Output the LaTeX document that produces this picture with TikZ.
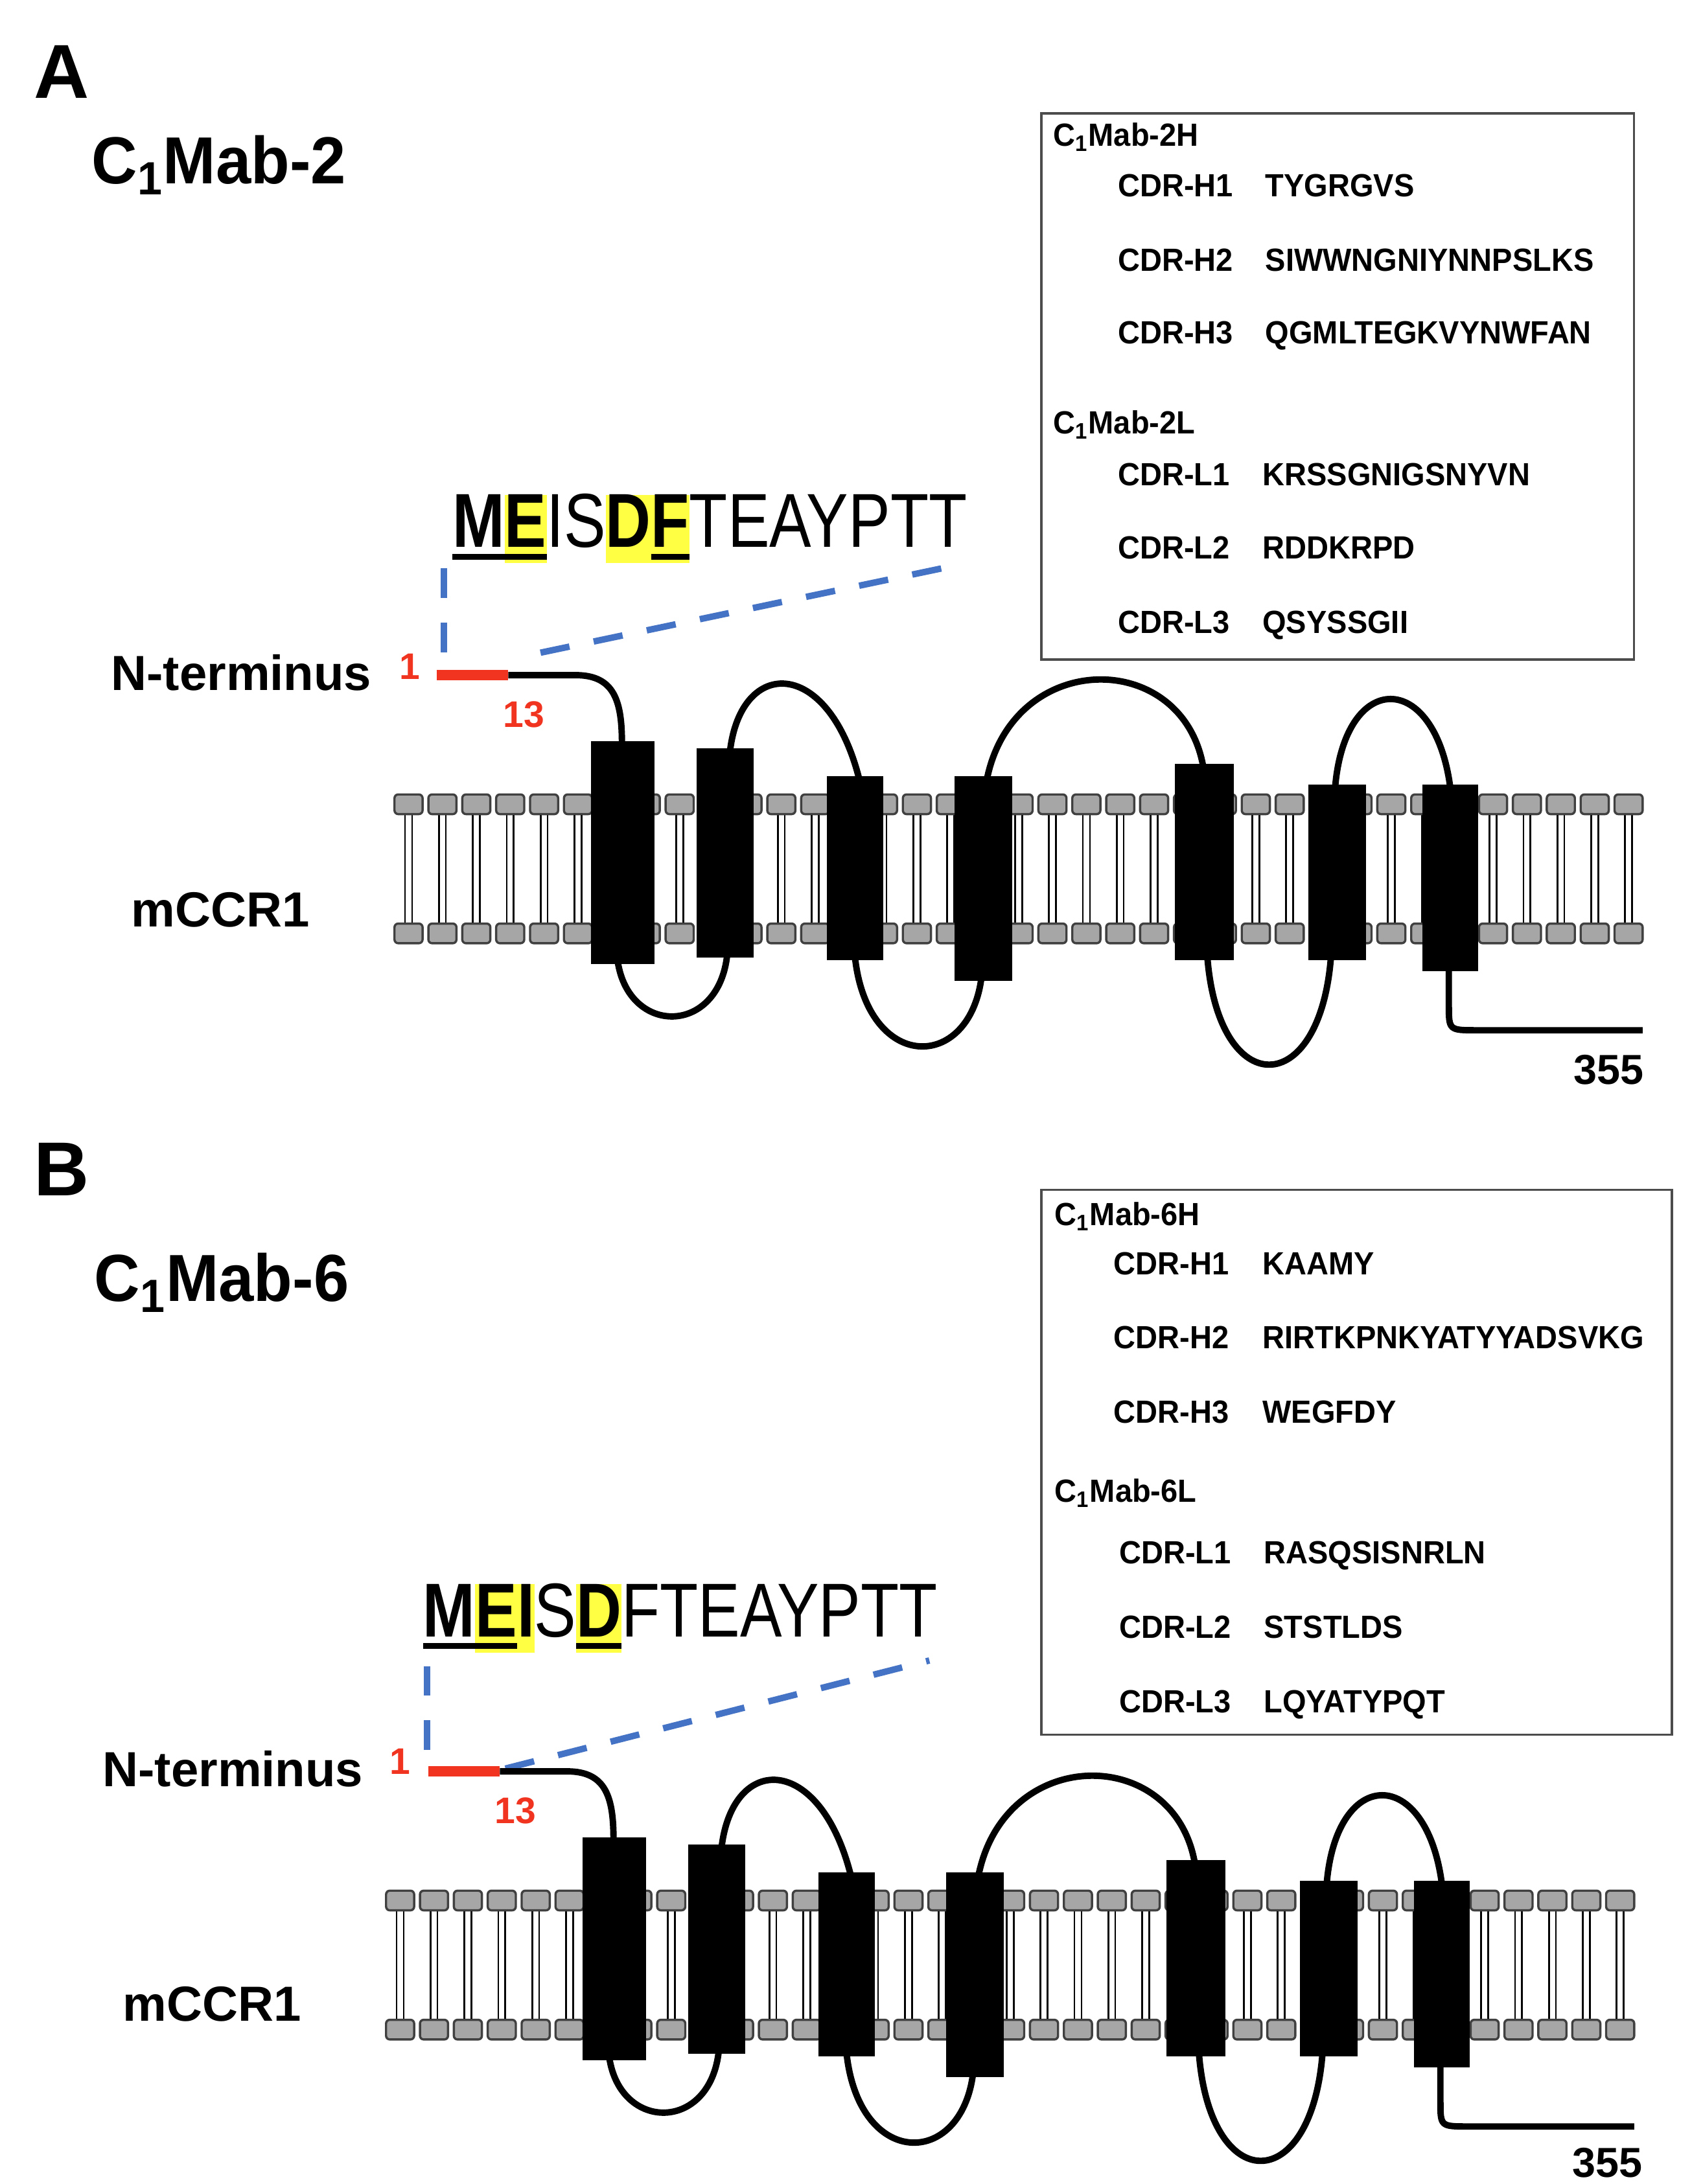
\documentclass[tikz,border=0pt]{standalone}
\usepackage{fontspec}
\setmainfont{Liberation Sans}
\newfontfamily\wide[FakeStretch=0.95]{Liberation Sans}
\newfontfamily\lwide[FakeStretch=1.0]{Liberation Sans}
\newfontfamily\narrow[FakeStretch=0.95]{Liberation Sans}
\newfontfamily\seqf[FakeStretch=0.82]{Liberation Sans}
\definecolor{hlY}{HTML}{FFFF44}
\definecolor{dblue}{HTML}{4472C4}
\definecolor{nred}{HTML}{F03420}
\definecolor{headG}{HTML}{A6A6A6}
\newcommand\hlb[1]{{\setlength\fboxsep{0pt}\colorbox{hlY}{\vphantom{Ey}#1}}}
\newcommand\ul[1]{{\setbox0\hbox{#1}\rlap{\rule[-5pt]{\wd0}{2.4pt}}\box0}}
\tikzset{
 prot/.style={line width=2.6pt,black},
 tm/.style={fill=black,draw=none},
 head/.style={fill=headG,draw=black!75,line width=0.9pt,rounded corners=1.5pt},
 tail/.style={line width=0.7pt},
 bluedash/.style={dblue,line width=2.6pt,dash pattern=on 12pt off 10pt},
 title/.style={font=\wide\bfseries\fontsize{27}{30}\selectfont,anchor=base west,inner sep=0},
 big/.style={font=\lwide\bfseries\fontsize{31}{34}\selectfont,anchor=base west,inner sep=0},
 lab/.style={font=\lwide\bfseries\fontsize{20}{24}\selectfont,inner sep=0},
 num/.style={font=\bfseries\fontsize{15}{18}\selectfont,text=nred,inner sep=0},
 box/.style={draw=black!70,line width=0.9pt},
 btxt/.style={font=\narrow\bfseries\fontsize{13}{15}\selectfont,anchor=base west,inner sep=0},
 seq/.style={font=\seqf\fontsize{31}{34}\selectfont,anchor=base west,inner sep=0},
}
\newcommand\membrane[1]{%
 \foreach \i in {0,...,36}{
  \pgfmathsetmacro\cx{291+24.14*\i}
  \draw[tail] (\cx-2.5,#1+7) -- (\cx-2.5,#1+85);
  \draw[tail] (\cx+2.5,#1+7) -- (\cx+2.5,#1+85);
  \draw[head] (\cx-10,#1-7) rectangle (\cx+10,#1+7);
  \draw[head] (\cx-10,#1+85) rectangle (\cx+10,#1+99);
 }}
\newcommand\protein{%
 \draw[prot] (362,481) -- (410,481) .. controls (438,481) and (443,500) .. (443,530);
 \draw[prot] (520,535) .. controls (528,468) and (590,468) .. (612,555);
 \draw[prot] (703,555) .. controls (722,462) and (842,462) .. (857,546);
 \draw[prot] (951,561) .. controls (958,477) and (1022,477) .. (1033,561);
 \draw[prot] (440,685) .. controls (448,738) and (512,738) .. (518,680);
 \draw[prot] (609,682) .. controls (618,764) and (690,764) .. (699,697);
 \draw[prot] (860,682) .. controls (868,784) and (940,784) .. (948,682);
 \draw[prot] (1032,690) -- (1032,716) .. controls (1032,734) .. (1052,734) -- (1170,734);
 \fill[tm] (421,528) rectangle (466,687);
 \fill[tm] (496,533) rectangle (537,682);
 \fill[tm] (589,553) rectangle (629,684);
 \fill[tm] (680,553) rectangle (721,699);
 \fill[tm] (837,544) rectangle (879,684);
 \fill[tm] (932,559) rectangle (973,684);
 \fill[tm] (1013,559) rectangle (1053,692);
}
\begin{document}
\begin{tikzpicture}[x=0.02cm,y=-0.02cm]
\useasboundingbox (0,0) rectangle (1213,1556);
% ---------- Panel A
\node[big] (A) at (24,70) {A};
\node[title] (tA) at (65,131) {C\textsubscript{1}Mab-2};
\node[box,minimum width=422*0.02cm,minimum height=389*0.02cm,anchor=north west] (boxA) at (741,80) {};
\node[btxt] (hA) at (750,104) {C\textsubscript{1}Mab-2H};
\node[btxt] (h1l) at (796,140) {CDR-H1}; \node[btxt] (h1s) at (901,140) {TYGRGVS};
\node[btxt] (h2l) at (796,193) {CDR-H2}; \node[btxt] (h2s) at (901,193) {SIWWNGNIYNNPSLKS};
\node[btxt] (h3l) at (796,245) {CDR-H3}; \node[btxt] (h3s) at (901,245) {QGMLTEGKVYNWFAN};
\node[btxt] (lA) at (750,309) {C\textsubscript{1}Mab-2L};
\node[btxt] (l1l) at (796,346) {CDR-L1}; \node[btxt] (l1s) at (899,346) {KRSSGNIGSNYVN};
\node[btxt] (l2l) at (796,398) {CDR-L2}; \node[btxt] (l2s) at (899,398) {RDDKRPD};
\node[btxt] (l3l) at (796,451) {CDR-L3}; \node[btxt] (l3s) at (899,451) {QSYSSGII};
\node[seq] (sA) at (322,390) {\ul{\textbf{M}}\hlb{\ul{\textbf{E}}}IS\hlb{\textbf{D}}\hlb{\ul{\textbf{F}}}TEAYPTT};
\coordinate (dA1) at (316,405); \coordinate (dA2) at (316,472);
\coordinate (dA3) at (385,465); \coordinate (dA4) at (680,403);
\draw[bluedash] (dA1) -- (dA2); \draw[bluedash] (dA3) -- (dA4);
\node[lab,anchor=base east] (nA) at (265,492) {N-terminus};
\node[num] (oneA) at (292,475) {1};
\node[num] (thA) at (373,509) {13};
\node[lab] (mA) at (157,648) {mCCR1};
\membrane{573}
\protein
\draw[nred,line width=4pt] (311,481) -- (362,481);
\node[font=\bfseries\fontsize{17}{20}\selectfont,inner sep=0] (eA) at (1146,762) {355};
% ---------- Panel B
\node[big] (B) at (24,852) {B};
\node[title] (tB) at (67,927) {C\textsubscript{1}Mab-6};
\node[box,minimum width=449*0.02cm,minimum height=388*0.02cm,anchor=north west] (boxB) at (741,847) {};
\node[btxt] (hB) at (751,873) {C\textsubscript{1}Mab-6H};
\node[btxt] (bh1l) at (793,908) {CDR-H1}; \node[btxt] (bh1s) at (899,908) {KAAMY};
\node[btxt] (bh2l) at (793,961) {CDR-H2}; \node[btxt] (bh2s) at (899,961) {RIRTKPNKYATYYADSVKG};
\node[btxt] (bh3l) at (793,1014) {CDR-H3}; \node[btxt] (bh3s) at (899,1014) {WEGFDY};
\node[btxt] (lB) at (751,1070) {C\textsubscript{1}Mab-6L};
\node[btxt] (bl1l) at (797,1114) {CDR-L1}; \node[btxt] (bl1s) at (900,1114) {RASQSISNRLN};
\node[btxt] (bl2l) at (797,1167) {CDR-L2}; \node[btxt] (bl2s) at (900,1167) {STSTLDS};
\node[btxt] (bl3l) at (797,1220) {CDR-L3}; \node[btxt] (bl3s) at (900,1220) {LQYATYPQT};
\node[seq] (sB) at (301,1166) {\ul{\textbf{M}}\hlb{\ul{\textbf{E}}}\hlb{\textbf{I}}S\hlb{\ul{\textbf{D}}}FTEAYPTT};
\coordinate (dB1) at (304,1187); \coordinate (dB2) at (304,1256);
\coordinate (dB3) at (360,1260); \coordinate (dB4) at (662,1183);
\draw[bluedash] (dB1) -- (dB2); \draw[bluedash] (dB3) -- (dB4);
\node[lab,anchor=base east] (nB) at (259,1273) {N-terminus};
\node[num] (oneB) at (285,1255) {1};
\node[num] (thB) at (367,1290) {13};
\node[lab] (mB) at (151,1428) {mCCR1};
\begin{scope}[shift={(-6,781)}]
\membrane{573}
\protein
\draw[nred,line width=4pt] (311,481) -- (362,481);
\end{scope}
\node[font=\bfseries\fontsize{17}{20}\selectfont,inner sep=0] (eB) at (1145,1541) {355};
\end{tikzpicture}
\end{document}
